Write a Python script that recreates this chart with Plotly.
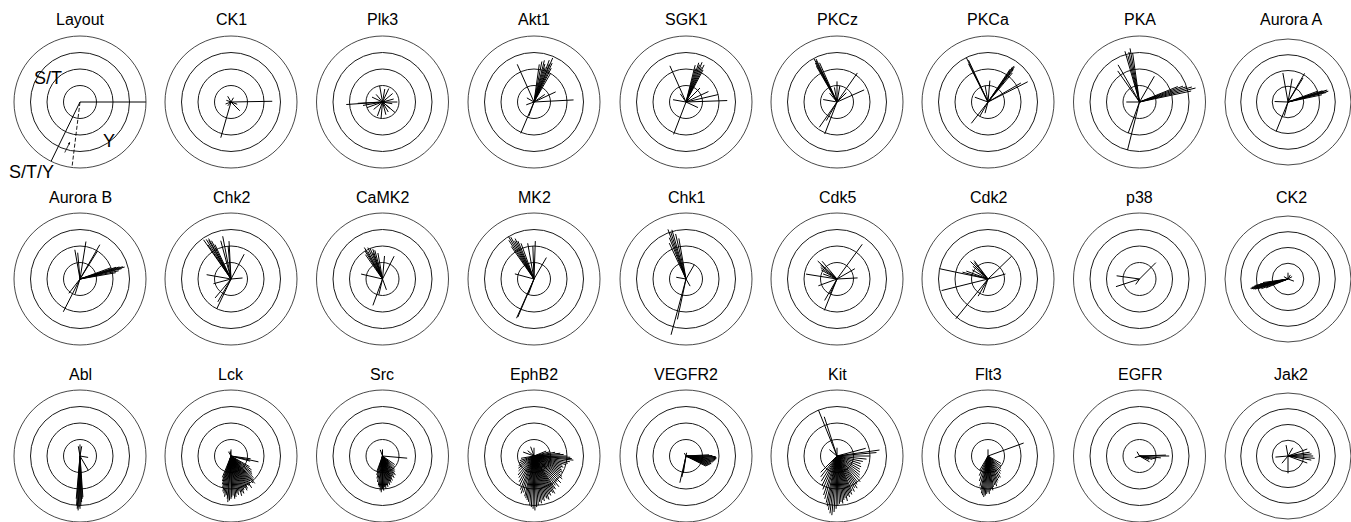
import plotly.graph_objects as go

W, H = 1351, 522

kinases = ["Layout", "CK1", "Plk3", "Akt1", "SGK1", "PKCz", "PKCa", "PKA", "Aurora A",
           "Aurora B", "Chk2", "CaMK2", "MK2", "Chk1", "Cdk5", "Cdk2", "p38", "CK2",
           "Abl", "Lck", "Src", "EphB2", "VEGFR2", "Kit", "Flt3", "EGFR", "Jak2"]

# ring positions (radial grid) and radial range
rings = [1, 2, 3, 4]

# Layout panel spokes: angle (deg, counter-clockwise from east), length (ring units)
layout_theta = [0, 244]
layout_r = [4, 4.3]
layout_dash_theta = [263]
layout_dash_r = [4.1]

ck1_theta = [1, 254, 315, 120, 200, 60, 160, 340, 230]
ck1_r = [2.5, 2.25, 0.75, 0.4, 0.35, 0.3, 0.3, 0.4, 0.3]

plk3_theta = [184, 190, 183, 100, 65, 320, 320, 250, 0, 155, 285, 40, 265, 15, 130, 220, 200, 350, 80, 300]
plk3_r = [2.2, 1.2, 1.5, 1.0, 0.9, 0.6, 1.0, 0.9, 0.9, 0.7, 0.8, 0.8, 1.0, 0.7, 0.6, 0.7, 1.0, 0.6, 0.8, 0.7]

akt1_theta = [60, 63, 65, 67, 68, 70, 72, 74, 76, 79, 82, 114, 3, 25, 247, 250, 35, 150, 200]
akt1_r = [2.0, 2.3, 2.6, 2.9, 2.5, 2.7, 2.2, 2.4, 2.6, 2.5, 2.3, 2.5, 2.4, 1.45, 2.06, 0.9, 0.8, 0.5, 0.5]

sgk1_theta = [62, 64, 66, 68, 70, 72, 74, 76, 114, 2, 13, 249, 170, 125, 335, 25, 45]
sgk1_r = [2.2, 2.5, 2.3, 2.6, 2.4, 2.5, 2.1, 2.3, 2.4, 2.5, 2.0, 2.1, 0.8, 0.6, 0.8, 1.5, 1.2]

pkcz_theta = [114, 116, 117, 118, 119, 120, 55, 24, 249, 235, 90, 130, 170, 45, 80, 100, 240]
pkcz_r = [2.6, 2.9, 2.8, 2.95, 2.7, 2.5, 2.15, 1.8, 2.08, 1.87, 1.25, 0.7, 0.85, 0.8, 1.0, 0.9, 1.3]

pkca_theta = [116, 115, 117, 50, 52, 54, 55, 56, 53, 27, 30, 232, 255, 160, 85, 100, 240]
pkca_r = [3.0, 2.8, 2.6, 2.3, 2.5, 2.7, 2.6, 2.4, 2.65, 2.7, 2.3, 1.64, 0.7, 0.85, 1.3, 1.0, 1.0]

pka_theta = [98, 100, 102, 104, 106, 120, 125, 12, 14, 16, 18, 20, 22, 60, 256, 250, 180]
pka_r = [3.0, 3.3, 3.1, 2.9, 3.2, 2.6, 2.3, 3.2, 3.5, 3.3, 3.0, 2.8, 2.5, 1.8, 3.0, 2.0, 0.8]

aurora_a_theta = [12, 14, 15, 16, 17, 18, 20, 60, 100, 80, 248, 178, 255, 58]
aurora_a_r = [2.2, 2.5, 2.65, 2.4, 2.6, 2.3, 2.0, 2.1, 1.87, 1.5, 2.0, 0.85, 0.9, 1.8]

aurora_b_theta = [10, 12, 14, 15, 16, 17, 18, 20, 60, 58, 81, 100, 243, 232, 252, 95]
aurora_b_r = [2.2, 2.4, 2.6, 2.8, 2.7, 2.5, 2.3, 2.0, 2.4, 2.0, 2.3, 1.8, 2.23, 1.1, 0.95, 1.6]

chk2_theta = [115, 117, 119, 120, 122, 124, 125, 101, 93, 95, 62, 244.5, 240, 170, 195, 5, 230, 105]
chk2_r = [2.3, 2.6, 2.8, 2.7, 2.83, 2.5, 2.9, 2.64, 2.3, 2.0, 1.7, 2.0, 1.6, 1.5, 1.1, 0.7, 1.5, 2.4]

camk2_theta = [100, 105, 108, 110, 112, 115, 118, 120, 122, 125, 63, 167, 250, 257, 290, 85]
camk2_r = [1.6, 1.8, 1.9, 1.7, 2.0, 2.1, 1.9, 2.2, 2.0, 1.8, 1.55, 1.33, 1.7, 1.0, 0.7, 1.4]

mk2_theta = [110, 113, 115, 117, 119, 121, 123, 125, 88, 92, 60, 165, 246, 247, 250, 100]
mk2_r = [2.3, 2.5, 2.7, 2.6, 2.9, 3.0, 2.8, 2.4, 2.3, 2.0, 1.5, 1.2, 2.6, 2.5, 1.0, 2.2]

chk1_theta = [100, 103, 106, 108, 110, 112, 115, 255, 258, 60, 170, 300]
chk1_r = [2.5, 2.8, 3.1, 3.0, 3.2, 2.7, 2.4, 3.5, 2.5, 1.0, 0.6, 0.5]

cdk5_theta = [54, 248, 171, 137, 140, 145, 130, 3, 30, 200, 245, 240, 160, 150]
cdk5_r = [2.6, 2.05, 1.9, 1.6, 1.3, 1.2, 1.4, 1.25, 1.25, 1.2, 1.0, 1.5, 0.9, 1.1]

cdk2_theta = [168, 231, 44, 16, 194, 127, 130, 135, 140, 150, 160, 240, 250, 165]
cdk2_r = [3.0, 3.1, 2.0, 1.1, 2.9, 1.4, 1.3, 1.5, 1.2, 1.1, 1.4, 1.2, 0.9, 1.6]

p38_theta = [45, 172, 198, 235]
p38_r = [1.4, 1.4, 1.5, 0.4]

ck2_theta = [188, 190, 191, 192, 193, 194, 195, 196, 197, 198, 200, 202, 90, 30, 340, 60, 150]
ck2_r = [1.6, 1.8, 2.1, 2.2, 2.35, 2.45, 2.4, 2.3, 2.2, 2.0, 1.8, 1.5, 0.4, 0.3, 0.4, 0.3, 0.3]

abl_theta = [265, 266, 267, 268, 269, 270, 271, 272, 273, 274, 80, 90, 100, 350, 300]
abl_r = [2.6, 3.0, 3.2, 3.3, 3.1, 3.2, 3.0, 2.8, 2.6, 2.5, 0.6, 0.7, 0.6, 0.5, 1.0]

lck_theta = [248, 251, 253, 255, 257, 259, 261, 263, 265, 266, 268, 270, 271, 273, 275, 277,
             279, 281, 283, 285, 287, 289, 291, 293, 295, 297, 299, 301, 303, 305, 307, 309,
             311, 313, 316, 319, 322, 326, 330, 345, 348, 352, 90, 100, 120]
lck_r = [1.4, 1.6, 1.8, 2.0, 2.2, 2.3, 2.5, 2.4, 2.6, 2.8, 2.7, 2.6, 2.5, 2.4, 2.6, 2.5,
         2.3, 2.4, 2.2, 2.5, 2.3, 2.4, 2.2, 2.1, 2.3, 2.2, 2.0, 2.1, 2.3, 2.0, 1.9, 2.1,
         2.2, 2.0, 1.9, 1.7, 1.6, 1.5, 1.3, 1.2, 1.7, 1.2, 0.4, 0.3, 0.3]

src_theta = [250, 253, 256, 259, 262, 264, 266, 268, 270, 272, 274, 276, 278, 280, 282, 284,
             286, 288, 290, 292, 295, 298, 301, 304, 308, 312, 318, 325, 355, 90, 110]
src_r = [1.0, 1.2, 1.4, 1.6, 1.8, 1.9, 2.1, 2.2, 2.0, 2.1, 1.9, 2.0, 1.8, 1.9, 1.7, 1.8,
         1.6, 1.7, 1.5, 1.6, 1.4, 1.5, 1.3, 1.4, 1.2, 1.1, 1.0, 0.9, 1.5, 0.4, 0.4]

ephb2_theta = [190, 198, 205, 212, 218, 224, 230, 235, 240, 244, 248, 251, 254, 257, 259, 261,
               263, 265, 267, 269, 271, 273, 275, 277, 279, 281, 283, 285, 287, 289, 291, 293,
               295, 297, 299, 301, 303, 306, 309, 312, 315, 318, 321, 324, 327, 330, 333, 336,
               339, 342, 345, 348, 351, 354, 356, 358, 0, 3, 6, 10, 15, 22, 90, 110, 140, 160]
ephb2_r = [0.8, 0.9, 1.0, 1.1, 1.2, 1.3, 1.5, 1.6, 1.8, 2.0, 2.2, 2.4, 2.3, 2.5, 2.6, 2.7,
           2.8, 3.0, 3.1, 3.2, 3.3, 3.1, 3.0, 2.8, 2.9, 2.7, 2.8, 2.6, 2.7, 2.8, 2.5, 2.6,
           2.4, 2.5, 2.6, 2.3, 2.4, 2.2, 2.4, 2.1, 2.3, 2.0, 2.2, 2.1, 1.9, 2.0, 1.9, 1.8,
           1.9, 1.8, 2.0, 2.1, 2.2, 2.4, 2.3, 2.2, 2.0, 1.8, 1.6, 1.3, 1.0, 0.8, 0.5, 0.6, 0.5, 0.7]

vegfr2_theta = [333, 335, 337, 339, 341, 343, 345, 347, 349, 351, 353, 355, 357, 359, 1, 3,
                257, 259, 261, 80, 120]
vegfr2_r = [1.35, 1.4, 1.45, 1.5, 1.55, 1.6, 1.55, 1.65, 1.7, 1.75, 1.8, 1.85, 1.85, 1.8, 1.6,
            1.4, 1.66, 1.3, 1.05, 0.2, 0.2]

kit_theta = [112, 108, 225, 232, 238, 243, 247, 251, 254, 257, 259, 261, 263, 265, 267, 269,
             271, 273, 275, 277, 279, 281, 283, 285, 287, 289, 291, 293, 296, 299, 302, 305,
             308, 312, 316, 320, 325, 330, 336, 342, 348, 354, 0, 5, 8, 15, 90, 140]
kit_r = [3.0, 2.5, 1.4, 1.6, 1.8, 2.0, 2.2, 2.5, 2.7, 2.9, 3.1, 3.3, 3.5, 3.6, 3.4, 3.2,
         3.0, 2.9, 2.8, 2.9, 2.7, 2.6, 2.8, 2.5, 2.6, 2.4, 2.5, 2.3, 2.4, 2.2, 2.3, 2.1,
         2.0, 2.1, 1.9, 1.8, 1.7, 1.6, 1.6, 1.5, 1.6, 1.8, 2.0, 2.4, 2.6, 1.8, 0.5, 0.6]

flt3_theta = [240, 246, 251, 255, 258, 260, 262, 264, 266, 268, 270, 272, 274, 276, 278, 280,
              283, 286, 289, 292, 296, 300, 305, 310, 316, 322, 330, 20, 90]
flt3_r = [1.0, 1.3, 1.6, 1.9, 2.1, 2.3, 2.4, 2.5, 2.4, 2.3, 2.2, 2.3, 2.1, 2.0, 2.1, 1.9,
          1.8, 1.9, 1.7, 1.6, 1.5, 1.5, 1.3, 1.2, 1.1, 1.0, 0.9, 2.3, 0.4]

egfr_theta = [0, 2, 355, 350, 345, 340, 330, 120, 200]
egfr_r = [1.8, 1.6, 1.3, 1.0, 0.8, 0.6, 0.7, 0.3, 0.3]

jak2_theta = [340, 350, 355, 0, 5, 10, 20, 100, 270, 185, 60, 230]
jak2_r = [1.3, 1.5, 1.7, 1.6, 1.5, 1.4, 1.3, 0.7, 1.1, 0.8, 0.6, 0.6]

panel_theta = [layout_theta, ck1_theta, plk3_theta, akt1_theta, sgk1_theta, pkcz_theta, pkca_theta,
               pka_theta, aurora_a_theta, aurora_b_theta, chk2_theta, camk2_theta, mk2_theta,
               chk1_theta, cdk5_theta, cdk2_theta, p38_theta, ck2_theta, abl_theta, lck_theta,
               src_theta, ephb2_theta, vegfr2_theta, kit_theta, flt3_theta, egfr_theta, jak2_theta]
panel_r = [layout_r, ck1_r, plk3_r, akt1_r, sgk1_r, pkcz_r, pkca_r, pka_r, aurora_a_r, aurora_b_r,
           chk2_r, camk2_r, mk2_r, chk1_r, cdk5_r, cdk2_r, p38_r, ck2_r, abl_r, lck_r, src_r,
           ephb2_r, vegfr2_r, kit_r, flt3_r, egfr_r, jak2_r]

# panel placement (pixels)
col_cx = [80, 231, 382.5, 534, 686, 837, 988, 1139.5, 1291]
row_cy = [102, 279, 456]
R = 66
TITLE_DY = 82


def spokes(thetas, rs):
    tt, rr = [], []
    for t, r in zip(thetas, rs):
        tt += [t, t, None]
        rr += [0, r, None]
    return tt, rr


fig = go.Figure()
layout_kw = {}
annotations = []
title_font = dict(family="Liberation Sans, Arial, sans-serif", size=16, color="black")
for i, name in enumerate(kinases):
    row, col = divmod(i, 9)
    cx, cy = col_cx[col], row_cy[row]
    key = "polar" if i == 0 else f"polar{i + 1}"
    x0 = max(0, (cx - R) / W)
    x1 = min(1, (cx + R) / W)
    y0 = max(0, 1 - (cy + R) / H)
    y1 = min(1, 1 - (cy - R) / H)
    layout_kw[key] = dict(
        domain=dict(x=[x0, x1], y=[y0, y1]),
        bgcolor="rgba(0,0,0,0)",
        radialaxis=dict(range=[0, 4], tickvals=rings, showticklabels=False, ticks="",
                        showline=False, gridcolor="#1a1a1a", gridwidth=0.8),
        angularaxis=dict(showgrid=False, showticklabels=False, ticks="", showline=True,
                         linecolor="#1a1a1a", linewidth=0.8),
    )
    tt, rr = spokes(panel_theta[i], panel_r[i])
    fig.add_trace(go.Scatterpolar(theta=tt, r=rr, mode="lines", subplot=key,
                                  line=dict(color="black", width=1.0),
                                  cliponaxis=(i != 0), showlegend=False, hoverinfo="skip"))
    if i == 0:
        tt, rr = spokes(layout_dash_theta, layout_dash_r)
        fig.add_trace(go.Scatterpolar(theta=tt, r=rr, mode="lines", subplot=key,
                                      line=dict(color="black", width=0.9, dash="4px,2px"),
                                      cliponaxis=False, showlegend=False, hoverinfo="skip"))
    annotations.append(dict(x=cx / W, y=1 - (cy - TITLE_DY) / H, xref="paper", yref="paper",
                            xanchor="center", yanchor="middle",
                            text=name, showarrow=False, font=title_font))

# Layout panel labels
lab_font = dict(family="Liberation Sans, Arial, sans-serif", size=18, color="black")
for txt, px, py in [("S/T", 48, 78), ("Y", 109, 141), ("S/T/Y", 31, 172)]:
    annotations.append(dict(x=px / W, y=1 - py / H, xref="paper", yref="paper", text=txt,
                            xanchor="center", yanchor="middle",
                            showarrow=False, font=lab_font))
annotations.append(dict(x=70 / W, y=1 - 142 / H, xref="paper", yref="paper", text="",
                        showarrow=True, arrowhead=2, arrowsize=0.6, arrowwidth=0.8,
                        arrowcolor="black", ax=-6, ay=12))

fig.update_layout(width=W, height=H, margin=dict(l=0, r=0, t=0, b=0),
                  paper_bgcolor="white", plot_bgcolor="white",
                  annotations=annotations, showlegend=False, **layout_kw)

fig.write_html("out.html", config={"displayModeBar": False},
               post_script="document.body.style.margin='0';document.body.style.overflow='hidden';")
